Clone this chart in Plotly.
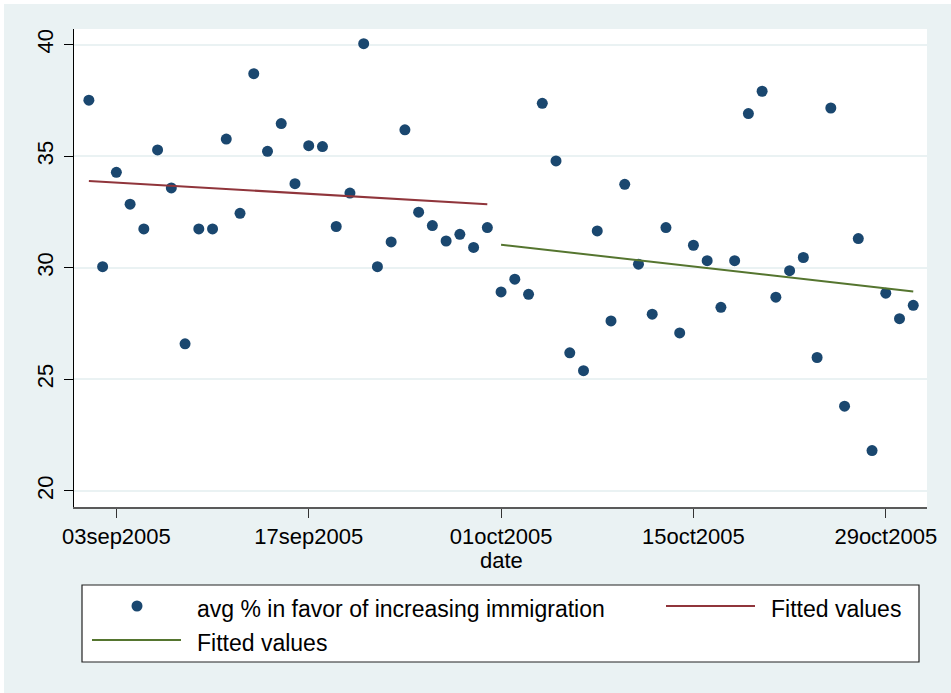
import numpy as np
import pandas as pd
import plotly.graph_objects as go

# Daily averages, September and October 2005
sep_dates = pd.date_range("2005-09-01", "2005-09-30", freq="D")
sep_values = [37.51, 30.05, 34.28, 32.85, 31.74, 35.28, 33.58, 26.59, 31.74, 31.74,
              35.77, 32.44, 38.70, 35.22, 36.46, 33.77, 35.47, 35.43, 31.85, 33.35,
              40.04, 30.05, 31.16, 36.18, 32.49, 31.89, 31.20, 31.50, 30.91, 31.80]

oct_dates = pd.date_range("2005-10-01", "2005-10-31", freq="D")
oct_values = [28.92, 29.49, 28.81, 37.37, 34.79, 26.19, 25.39, 31.65, 27.62, 33.74,
              30.16, 27.92, 31.80, 27.08, 31.01, 30.32, 28.23, 30.32, 36.91, 37.91,
              28.68, 29.87, 30.46, 25.98, 37.16, 23.80, 31.31, 21.81, 28.86, 27.72,
              28.32]

x_tickvals = ["2005-09-03", "2005-09-17", "2005-10-01", "2005-10-15", "2005-10-29"]
x_ticktext = ["03sep2005", "17sep2005", "01oct2005", "15oct2005", "29oct2005"]
y_tickvals = [20, 25, 30, 35, 40]

NAVY = "#1A476F"
MAROON = "#90353B"
GREEN = "#55752F"
BG = "#EAF2F3"
FONT = "Liberation Sans, Arial, sans-serif"


def linear_fit(dates, values):
    t = np.asarray((dates - dates[0]).days, dtype=float)
    slope, intercept = np.polyfit(t, np.asarray(values), 1)
    return intercept + slope * t


all_dates = sep_dates.append(oct_dates)
all_values = sep_values + oct_values

fig = go.Figure()
fig.add_trace(go.Scatter(
    x=all_dates, y=all_values, mode="markers",
    marker=dict(color=NAVY, size=11, line=dict(width=0)),
    name="avg % in favor of increasing immigration"))
fig.add_trace(go.Scatter(
    x=sep_dates, y=linear_fit(sep_dates, sep_values), mode="lines",
    line=dict(color=MAROON, width=2), name="Fitted values"))
fig.add_trace(go.Scatter(
    x=oct_dates, y=linear_fit(oct_dates, oct_values), mode="lines",
    line=dict(color=GREEN, width=2), name="Fitted values"))

# plot area geometry in pixels, used to place the legend box
W, H = 951, 693
L, R, T, B = 74, 24, 29, 186
PW, PH = W - L - R, H - T - B


def px(xp):
    return (xp - L) / PW


def py(yp):
    return (H - B - yp) / PH


shapes = [
    # thin white frame around the graph region
    dict(type="rect", xref="paper", yref="paper", x0=px(0), x1=px(W),
         y0=py(4), y1=py(0), fillcolor="white", line=dict(width=0), layer="below"),
    dict(type="rect", xref="paper", yref="paper", x0=px(0), x1=px(4),
         y0=py(H), y1=py(0), fillcolor="white", line=dict(width=0), layer="below"),
    # legend box
    dict(type="rect", xref="paper", yref="paper", x0=px(82), x1=px(919),
         y0=py(662), y1=py(585), fillcolor="white",
         line=dict(color="#222222", width=1.2)),
    dict(type="circle", xref="paper", yref="paper", x0=px(131.5), x1=px(142.5),
         y0=py(611.5), y1=py(600.5), fillcolor=NAVY, line=dict(width=0)),
    dict(type="line", xref="paper", yref="paper", x0=px(666), x1=px(755),
         y0=py(606), y1=py(606), line=dict(color=MAROON, width=2)),
    dict(type="line", xref="paper", yref="paper", x0=px(92), x1=px(181),
         y0=py(640), y1=py(640), line=dict(color=GREEN, width=2)),
]

annotations = [
    dict(text="date", xref="paper", yref="paper", x=px(501), y=py(560),
         xanchor="center", yanchor="middle", showarrow=False, borderpad=0,
         font=dict(family=FONT, size=22, color="black")),
    dict(text="avg % in favor of increasing immigration", xref="paper", yref="paper",
         x=px(195), y=py(608.5), xanchor="left", yanchor="middle", showarrow=False,
         font=dict(family=FONT, size=23, color="black")),
    dict(text="Fitted values", xref="paper", yref="paper",
         x=px(769), y=py(608.5), xanchor="left", yanchor="middle", showarrow=False,
         font=dict(family=FONT, size=23, color="black")),
    dict(text="Fitted values", xref="paper", yref="paper",
         x=px(195), y=py(642.5), xanchor="left", yanchor="middle", showarrow=False,
         font=dict(family=FONT, size=23, color="black")),
]

fig.update_layout(
    width=W, height=H,
    margin=dict(l=L, r=R, t=T, b=B),
    paper_bgcolor=BG, plot_bgcolor="white",
    showlegend=False,
    font=dict(family=FONT, size=22, color="black"),
    shapes=shapes, annotations=annotations,
    xaxis=dict(
        type="date", range=["2005-08-30 22:00", "2005-11-01 00:00"],
        tickmode="array", tickvals=x_tickvals, ticktext=x_ticktext,
        ticks="outside", ticklen=9, tickwidth=1.3, tickcolor="#333333",
        showline=True, linecolor="#5a5a5a", linewidth=2,
        showgrid=False, zeroline=False,
        tickfont=dict(family=FONT, size=22, color="black"),
    ),
    yaxis=dict(
        range=[19.28, 40.70],
        tickmode="array", tickvals=y_tickvals,
        tickangle=-90,
        ticks="outside", ticklen=9, tickwidth=1.3, tickcolor="black",
        showline=True, linecolor="black", linewidth=1.3,
        showgrid=True, gridcolor=BG, gridwidth=2, zeroline=False,
        tickfont=dict(family=FONT, size=22, color="black"),
        ticklabelstandoff=2,
    ),
)

fig.write_html("out.html")
